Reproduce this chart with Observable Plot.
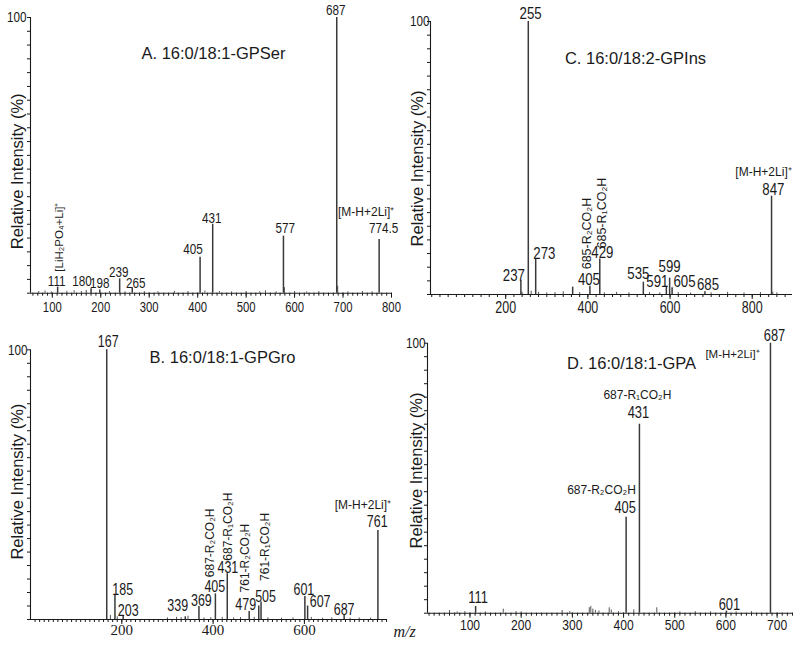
<!DOCTYPE html>
<html><head><meta charset="utf-8">
<script src="https://cdn.jsdelivr.net/npm/d3@7"></script>
<script src="https://cdn.jsdelivr.net/npm/@observablehq/plot@0.6"></script>
<style>
body{margin:0;background:#fff;}
#wrap{position:relative;width:800px;height:646px;overflow:hidden;}
#wrap > svg{position:absolute;overflow:visible;}
</style></head><body><div id="wrap"></div>
<script>
// ---------- DATA ----------
// Panel A: 16:0/18:1-GPSer
const mzA   = [111, 180, 198, 239, 265, 405, 431, 577, 687, 774.5];
const intA  = [2.2, 1.6, 1.2, 5.2, 2.0, 13, 25, 20.7, 100, 19.5];
const labA  = ["111","180","198","239","265","405","431","577","687","774.5"];
const noiseMzA  = [72, 85, 98, 130, 145, 160, 170, 218, 250, 290, 318, 352, 380, 415, 445, 470, 500, 528, 540, 562, 579, 600, 625, 650, 689, 710, 740, 760];
const noiseIntA = [0.6,0.8,0.5,0.7,0.9,0.6,1.0,0.6,0.5,0.6,0.5,0.7,0.6,0.8,0.6,0.5,0.6,0.5,0.9,0.5,2.0,0.6,0.5,0.6,2.5,0.5,0.6,0.5];
const annTextA = ["[LiH₂PO₄+Li]⁺", "[M-H+2Li]⁺"];
const annPeakA = [111, 774.5];

// Panel C: 16:0/18:2-GPIns
const mzC   = [237, 255, 273, 363, 405, 429, 535, 591, 599, 605, 685, 847];
const intC  = [5, 100, 13, 2.7, 3, 13, 4.5, 3, 6, 2.5, 1, 36];
const labC  = ["237","255","273","","405","429","535","591","599","605","685","847"];
const noiseMzC  = [240, 262, 280, 300, 320, 340, 380, 440, 470, 500, 550, 575, 620, 650, 700, 740, 780, 820, 850, 860];
const noiseIntC = [0.8,1.2,0.8,0.6,0.7,1.0,0.7,0.6,0.8,0.6,0.7,0.6,0.7,0.5,0.6,0.8,0.6,0.7,0.9,0.6];
const annTextC = ["685-R₂CO₂H", "685-R₁CO₂H", "[M-H+2Li]⁺"];
const annPeakC = [405, 429, 847];

// Panel B: 16:0/18:1-GPGro
const mzB   = [167, 185, 203, 339, 369, 405, 431, 479, 500, 505, 601, 607, 687, 761];
const intB  = [100, 9, 1.5, 1, 4.8, 9.5, 17, 3, 5, 6.5, 8.5, 5, 1.5, 33];
const labB  = ["167","185","203","339","369","405","431","479","","505","601","607","687","761"];
const noiseMzB  = [175, 190, 300, 320, 330, 345, 380, 395, 420, 445, 460, 490, 520, 550, 575, 615, 640, 660, 700, 720, 745];
const noiseIntB = [1.5,1.0,0.6,0.8,0.7,1.2,0.6,0.7,0.8,0.6,0.7,0.8,0.6,0.5,0.6,0.8,0.5,0.6,0.5,0.6,0.5];
const annTextB = ["687-R₂CO₂H", "687-R₁CO₂H", "761-R₂CO₂H", "761-R₁CO₂H", "[M-H+2Li]⁺"];
const annPeakB = [405, 431, 479, 505, 761];

// Panel D: 16:0/18:1-GPA
const mzD   = [111, 405, 431, 601, 687];
const intD  = [2.5, 35.5, 70, 0.8, 100];
const labD  = ["111","405","431","601","687"];
const noiseMzD  = [60, 75, 90, 130, 165, 190, 200, 280, 295, 333, 336, 340, 345, 352, 372, 376, 390, 420, 465, 510, 540, 570, 620, 650];
const noiseIntD = [1.0,0.5,0.6,0.5,1.5,0.6,0.5,1.0,0.6,2.0,2.5,1.5,1.0,0.8,2.0,1.2,0.6,1.2,2.0,0.5,0.6,0.5,0.5,0.6];
const annTextD = ["687-R₁CO₂H", "687-R₂CO₂H"];
const annPeakD = [431, 405];

const titles = ["A. 16:0/18:1-GPSer", "C. 16:0/18:2-GPIns", "B. 16:0/18:1-GPGro", "D. 16:0/18:1-GPA"];
const yTitle = "Relative Intensity (%)";
const xTitle = "m/z";

// ---------- LAYOUT / STYLE ----------
const FN = "'Liberation Sans Narrow','Arial Narrow','Liberation Sans',Arial,sans-serif";
const FS = "'Liberation Sans',Arial,sans-serif";
const FSERIF = "'Liberation Serif','Times New Roman',serif";
const INK = "#1a1a1a";
const SQUEEZE = 0.78;

function panel(c) {
  const idx = d3.range(c.mz.length);
  const nidx = d3.range(c.noiseMz.length);
  const marks = [
    Plot.ruleX(nidx, {x: i => c.noiseMz[i], y1: 0, y2: i => c.noiseInt[i], stroke: "#555", strokeWidth: 1}),
    Plot.ruleX(idx, {x: i => c.mz[i], y1: 0, y2: i => c.inten[i], stroke: "#3a3a3a", strokeWidth: 1.5}),
    Plot.ruleY([0], {stroke: INK, strokeWidth: 1.1}),
    Plot.ruleX([c.domain[0]], {y1: 0, y2: 100, stroke: INK, strokeWidth: 1.1}),
    Plot.axisX({ticks: c.minor, tickSize: 3, tickFormat: () => "", label: null, stroke: INK}),
    Plot.axisX({ticks: c.major, tickSize: 5, tickPadding: c.tickPad, label: null, stroke: INK,
      fontFamily: c.tickFont, fontSize: c.tickSize, fill: INK}),
    Plot.axisY({ticks: d3.range(0, 101, 5), tickSize: 3, tickFormat: () => "", label: null, stroke: INK}),
    Plot.axisY({ticks: [100], tickSize: 0, tickPadding: c.yPad, label: null, fontFamily: FN, fontSize: 15, fill: INK}),
    Plot.text([yTitle], {frameAnchor: "left", rotate: -90, textAnchor: "middle", dx: c.ylab[0], dy: c.ylab[1], fontFamily: FS, fontSize: 16.5, fill: INK}),
    Plot.text([c.title], {frameAnchor: "top", textAnchor: "middle", dx: c.titleOff[0], dy: c.titleOff[1], lineAnchor: "bottom", fontFamily: FS, fontSize: 16.5, fill: INK})
  ];
  idx.forEach(i => {
    if (!c.labels[i]) return;
    const o = c.off[i];
    marks.push(Plot.text([i], {x: c.mz[i], y: c.inten[i], text: () => c.labels[i], dx: o[0], dy: o[1],
      lineAnchor: "bottom", fontFamily: FN, fontSize: c.labSize, fill: INK}));
  });
  c.annText.forEach((t, k) => {
    const p = c.annPeak[k];
    const j = c.mz.indexOf(p);
    const a = c.annOff[k];
    marks.push(Plot.text([k], {x: p, y: c.inten[j], text: () => t, dx: a[0], dy: a[1],
      rotate: a[2], textAnchor: a[2] ? "start" : "middle", lineAnchor: a[2] ? "middle" : "bottom",
      fontFamily: FS, fontSize: a[3], fill: INK}));
  });
  if (c.extra) marks.push(...c.extra);
  const svg = Plot.plot({
    width: 400, height: 323,
    marginLeft: c.m[0], marginRight: c.m[1], marginTop: c.m[2], marginBottom: c.m[3],
    x: {domain: c.domain, axis: null, label: null},
    y: {domain: [0, 100], axis: null, label: null},
    style: {background: "transparent", overflow: "visible", color: INK},
    marks
  });
  // condense the narrow-styled numeric labels (no narrow face installed)
  svg.querySelectorAll("g[font-family*='Narrow'] text").forEach(t => {
    const tr = t.getAttribute("transform");
    if (tr) t.setAttribute("transform", tr + ` scale(${SQUEEZE},1)`);
  });
  svg.style.left = c.pos[0] + "px";
  svg.style.top = c.pos[1] + "px";
  document.getElementById("wrap").appendChild(svg);
}

// Panel A
panel({
  mz: mzA, inten: intA, labels: labA, noiseMz: noiseMzA, noiseInt: noiseIntA,
  annText: annTextA, annPeak: annPeakA, labSize: 15,
  off: [[-1,-1],[-9,-3],[0,-2],[-1,-1.5],[3.5,0],[-7,-3],[-1,-1],[1.7,-3],[-1,-3],[4.5,-6]],
  annOff: [[1.3,-15.5,-90,11.5],[-13,-23,0,12]],
  domain: [55, 800], major: d3.range(100, 801, 100), minor: d3.range(60, 801, 10),
  tickFont: FN, tickSize: 14.5, tickPad: 4, yPad: 4,
  m: [30, 9, 17, 30.3], pos: [0, 0],
  title: titles[0], titleOff: [2.5, 41], ylab: [-13, 16]
});

// Panel C
panel({
  mz: mzC, inten: intC, labels: labC, noiseMz: noiseMzC, noiseInt: noiseIntC,
  annText: annTextC, annPeak: annPeakC, labSize: 17,
  off: [[-7,0],[2.3,-2.7],[8.7,-0.5],[0,0],[-1,-1],[2.6,-1],[-5,-3.4],[-9,1],[0,-6],[12.4,-0.5],[3,-1.3],[1.8,-1.5]],
  annOff: [[-2.6,-17,-90,12.5],[2.6,-10.5,-90,12.5],[-8,-20.7,0,12]],
  domain: [17, 898], major: d3.range(200, 801, 200), minor: d3.range(20, 898, 20),
  tickFont: FN, tickSize: 16, tickPad: 2, yPad: 1,
  m: [30, 8, 21, 29], pos: [400, 0],
  title: titles[1], titleOff: [24, 42], ylab: [-13, 10.5]
});

// Panel B
panel({
  mz: mzB, inten: intB, labels: labB, noiseMz: noiseMzB, noiseInt: noiseIntB,
  annText: annTextB, annPeak: annPeakB, labSize: 16,
  off: [[1.5,-2.6],[7.8,0],[5,1],[-7.5,-5.6],[2.4,-1],[-0.6,-1.7],[0.6,-0.5],[-3.5,-1],[0,0],[4.5,0],[-1,-1.5],[12.5,0.5],[0,0],[-0.7,-3.3]],
  annOff: [[-5.6,-16.7,-90,12],[1,-13,-90,12],[-3.6,-19,-90,12],[4.5,-21,-90,12],[-15,-21.7,0,12]],
  domain: [0, 782], major: d3.range(200, 701, 200), minor: d3.range(10, 782, 10),
  tickFont: FSERIF, tickSize: 15, tickPad: 0, yPad: 3,
  m: [30, 13, 26.3, 27], pos: [0, 323],
  title: titles[2], titleOff: [13.5, 12.7], ylab: [-13, -3],
  extra: [Plot.text([xTitle], {frameAnchor: "bottom-right", dx: 6, dy: 17, textAnchor: "start", lineAnchor: "bottom",
    fontFamily: FSERIF, fontStyle: "italic", fontSize: 16, fill: INK})]
});

// Panel D
panel({
  mz: mzD, inten: intD, labels: labD, noiseMz: noiseMzD, noiseInt: noiseIntD,
  annText: annTextD, annPeak: annPeakD, labSize: 16.5,
  off: [[2.5,-3.3],[-1,-4],[-1,-6.6],[3,-1],[4,-2.7]],
  annOff: [[-2,-25,0,12],[-24.6,-23.4,0,12]],
  domain: [17, 732], major: d3.range(100, 701, 100), minor: d3.range(20, 732, 10),
  tickFont: FN, tickSize: 15.5, tickPad: 1, yPad: 2,
  m: [27, 7, 19.7, 33.3], pos: [400, 323],
  title: titles[3], titleOff: [21, 25.3], ylab: [-11, -7.7],
  extra: [Plot.text(["[M-H+2Li]⁺"], {frameAnchor: "top", dx: 122, dy: 14.3, lineAnchor: "bottom", fontFamily: FS, fontSize: 11.5, fill: INK})]
});
</script></body></html>
